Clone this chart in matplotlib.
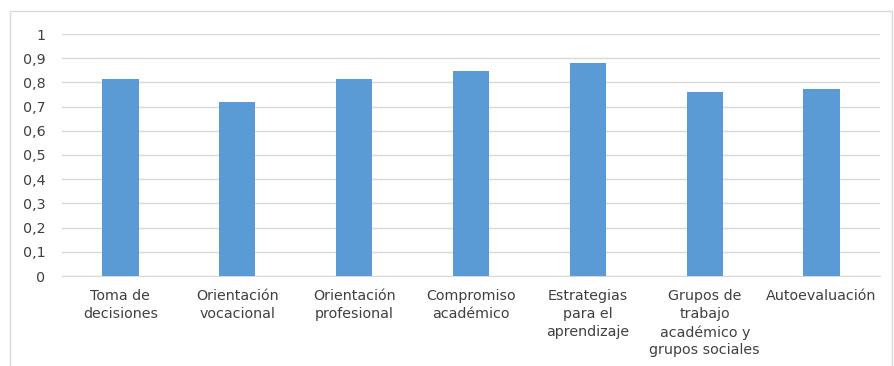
import matplotlib.pyplot as plt
from matplotlib.patches import Rectangle
from matplotlib.ticker import FuncFormatter

plt.rcParams['font.family'] = ['DejaVu Sans']

categorias = ['Toma de\ndecisiones', 'Orientación\nvocacional', 'Orientación\nprofesional',
              'Compromiso\nacadémico', 'Estrategias\npara el\naprendizaje',
              'Grupos de\ntrabajo\nacadémico y\ngrupos sociales', 'Autoevaluación']
valores = [0.814, 0.719, 0.814, 0.847, 0.880, 0.760, 0.772]

fig = plt.figure(figsize=(8.94, 3.66), dpi=100)
ax = fig.add_axes([62 / 894, 1 - 276 / 366, 818 / 894, 242 / 366])

# marco del gráfico
fig.patches.append(Rectangle((10 / 894, -0.05), 882 / 894, 1 - 11 / 366 + 0.05,
                             transform=fig.transFigure, fill=False,
                             edgecolor='#d9d9d9', linewidth=1))

x = range(len(categorias))
ax.bar(x, valores, width=0.31, color='#5b9bd5', zorder=3)

ax.set_xlim(-0.5, len(categorias) - 0.5)
ax.set_ylim(0, 1)
ax.set_yticks([i / 10 for i in range(11)])
ax.yaxis.set_major_formatter(FuncFormatter(lambda v, p: ('%g' % round(v, 1)).replace('.', ',')))
ax.grid(axis='y', color='#d9d9d9', linewidth=1, zorder=0)
ax.set_xticks(list(x))
ax.set_xticklabels(categorias, fontsize=10.3, color='#404040', linespacing=1.35, va='top')
ax.tick_params(axis='both', length=0, labelsize=10.3, colors='#404040')
ax.tick_params(axis='x', pad=9.5)
ax.tick_params(axis='y', pad=12)
for s in ['top', 'right', 'left']:
    ax.spines[s].set_visible(False)
ax.spines['bottom'].set_color('#d9d9d9')

fig.savefig('out.png', dpi=100)
